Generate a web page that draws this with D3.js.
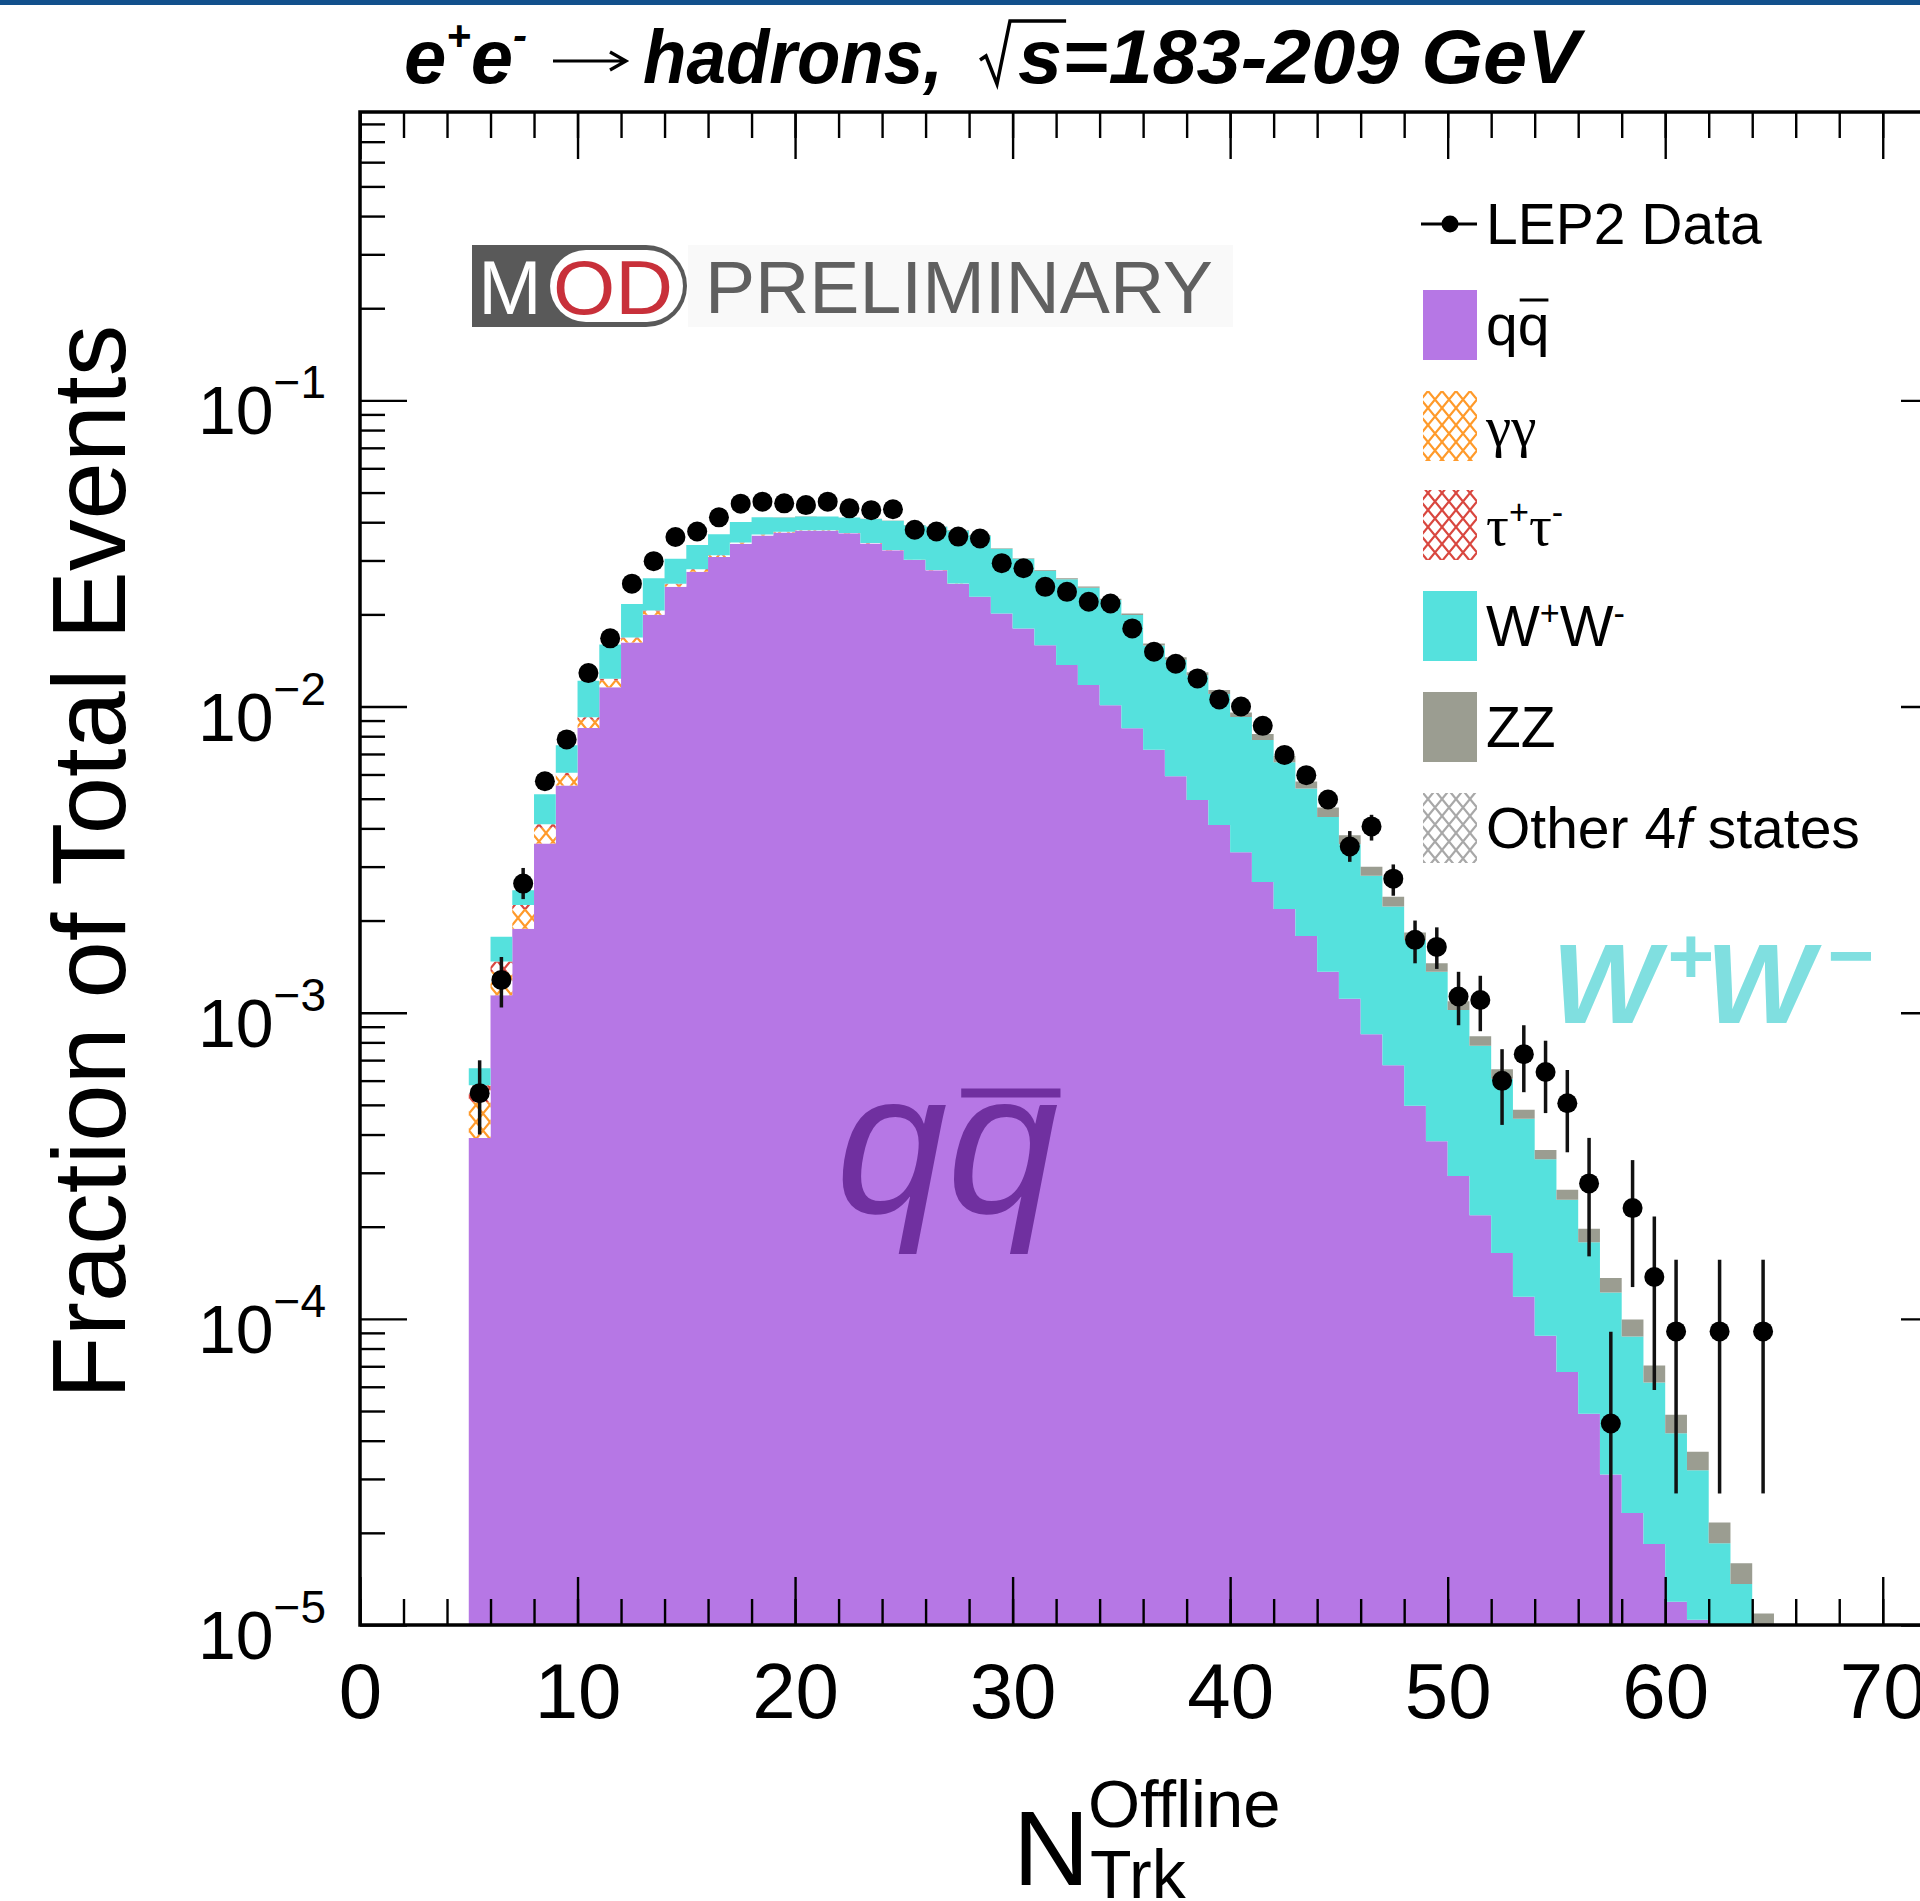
<!DOCTYPE html>
<html>
<head>
<meta charset="utf-8">
<script src="https://cdn.jsdelivr.net/npm/d3@7"></script>
<style>
  html, body { margin: 0; padding: 0; background: #fff; }
  svg { display: block; }
  text { font-family: "Liberation Sans", Arial, sans-serif; }
</style>
</head>
<body>
<div id="wrapper"></div>
<script>
// bin low edges (one unit wide)
const nTrk = [5, 6, 7, 8, 9, 10, 11, 12, 13, 14,
  15, 16, 17, 18, 19, 20, 21, 22, 23, 24,
  25, 26, 27, 28, 29, 30, 31, 32, 33, 34,
  35, 36, 37, 38, 39, 40, 41, 42, 43, 44,
  45, 46, 47, 48, 49, 50, 51, 52, 53, 54,
  55, 56, 57, 58, 59, 60, 61, 62, 63, 64];

// MC fractions per bin
const qqbar = [3.9e-4, 1.14e-3, 1.88e-3, 3.57e-3, 5.52e-3, 8.51e-3, 0.01156, 0.01619, 0.01995, 0.0246,
  0.02754, 0.0308, 0.0340, 0.0362, 0.0370, 0.0375, 0.0375, 0.0368, 0.0341, 0.0324,
  0.0301, 0.0279, 0.0252, 0.02284, 0.02014, 0.01798, 0.01587, 0.01367, 0.01175, 0.0101,
  0.0085, 0.00722, 0.00592, 0.00495, 0.0041, 0.00334, 0.00267, 0.00218, 0.00178, 0.00136,
  0.00111, 8.5e-4, 6.73e-4, 4.97e-4, 3.8e-4, 2.93e-4, 2.18e-4, 1.64e-4, 1.18e-4, 8.8e-5,
  6.7e-5, 4.9e-5, 3.1e-5, 2.32e-5, 1.84e-5, 1.19e-5, 1.04e-5, 7e-6, 5e-6, 3.5e-6];
const gammaGamma = [1.2e-4, 2.2e-4, 3.0e-4, 4.5e-4, 4.5e-4, 5.5e-4, 6.0e-4, 5.0e-4, 5.0e-4, 4.5e-4,
  4.0e-4, 3.0e-4, 2.5e-4, 2.0e-4, 1.5e-4, 1.2e-4, 1.0e-4, 8e-5, 6e-5, 5e-5,
  4e-5, 3e-5, 2e-5, 1.5e-5, 1e-5, 0, 0, 0, 0, 0,
  0, 0, 0, 0, 0, 0, 0, 0, 0, 0,
  0, 0, 0, 0, 0, 0, 0, 0, 0, 0,
  0, 0, 0, 0, 0, 0, 0, 0, 0, 0];
const tauTau = [7e-5, 1.1e-4, 7e-5, 1.1e-4, 1.1e-4, 1.6e-4, 1.7e-4, 1.3e-4, 1.5e-4, 1.5e-4,
  1.5e-4, 1.2e-4, 1.0e-4, 1.0e-4, 8e-5, 6e-5, 5e-5, 4e-5, 3e-5, 2e-5,
  1.5e-5, 1e-5, 0, 0, 0, 0, 0, 0, 0, 0,
  0, 0, 0, 0, 0, 0, 0, 0, 0, 0,
  0, 0, 0, 0, 0, 0, 0, 0, 0, 0,
  0, 0, 0, 0, 0, 0, 0, 0, 0, 0];
const wPairs = [7.8e-5, 3.0e-4, 2.6e-4, 1.04e-3, 1.40e-3, 2.91e-3, 3.63e-3, 4.81e-3, 5.64e-3, 5.2e-3,
  5.6e-3, 5.3e-3, 5.7e-3, 5.0e-3, 4.25e-3, 4.1e-3, 4.1e-3, 4.5e-3, 6.8e-3, 7.95e-3,
  8.95e-3, 0.0107, 0.0124, 0.0133, 0.0126, 0.0124, 0.0119, 0.0124, 0.0127, 0.0122,
  0.0114, 0.0086, 0.0083, 0.0077, 0.0069, 0.0059, 0.0051, 0.0044, 0.00362, 0.0030,
  0.00244, 0.00195, 0.00155, 0.00123, 9.8e-4, 7.27e-4, 5.62e-4, 4.44e-4, 3.32e-4, 2.44e-4,
  1.78e-4, 1.29e-4, 9.1e-5, 6.43e-5, 4.35e-5, 3.04e-5, 2.16e-5, 1.15e-5, 8.6e-6, 6e-6];
const zPairs = [0, 0, 0, 0, 0, 0, 0, 0, 0, 0,
  0, 0, 0, 0, 2e-5, 3e-5, 3e-5, 4e-5, 5e-5, 7e-5,
  8e-5, 9e-5, 1.0e-4, 1.1e-4, 1.3e-4, 1.5e-4, 1.6e-4, 1.8e-4, 2.0e-4, 2.1e-4,
  2.3e-4, 2.5e-4, 2.8e-4, 3.0e-4, 3.2e-4, 3.3e-4, 3.6e-4, 3.2e-4, 2.9e-4, 3.2e-4,
  2.5e-4, 2.0e-4, 1.7e-4, 1.0e-4, 9e-5, 7e-5, 5.8e-5, 4.5e-5, 3.2e-5, 2.4e-5,
  1.9e-5, 1.9e-5, 1.4e-5, 1.2e-5, 8.5e-6, 6.3e-6, 4.8e-6, 3.1e-6, 2.3e-6, 1.4e-6];
const other4f = [0, 0, 0, 0, 0, 0, 0, 0, 0, 0,
  0, 0, 0, 0, 0, 0, 0, 0, 0, 0,
  0, 0, 0, 0, 0, 0, 0, 0, 0, 0,
  0, 0, 0, 0, 0, 0, 0, 0, 0, 0,
  0, 0, 0, 0, 0, 0, 0, 0, 0, 0,
  0, 0, 0, 0, 0, 0, 0, 0, 0, 0];

// LEP2 data points and error bar ends
const lepData = [5.46e-4, 1.28e-3, 2.64e-3, 5.7e-3, 7.81e-3, 0.01286, 0.0167, 0.0252, 0.02985, 0.0358,
  0.0373, 0.0415, 0.046, 0.0467, 0.0461, 0.0455, 0.0467, 0.0444, 0.0438, 0.0441,
  0.0378, 0.0373, 0.0359, 0.0354, 0.0294, 0.0283, 0.0246, 0.0237, 0.022, 0.0217,
  0.018, 0.0151, 0.0138, 0.01236, 0.01055, 0.0100, 0.00865, 0.00695, 0.00597, 0.00497,
  0.00349, 0.00406, 0.00274, 0.00173, 0.00164, 0.00113, 0.0011, 5.99e-4, 7.32e-4, 6.4e-4,
  5.06e-4, 2.77e-4, 4.55e-5, 2.3e-4, 1.37e-4, 9.1e-5, null, 9.1e-5, null, 9.1e-5];
const lepErrLow = [4.0e-4, 1.04e-3, 2.35e-3, null, null, null, null, null, null, null,
  null, null, null, null, null, null, null, null, null, null,
  null, null, null, null, null, null, null, null, null, null,
  null, null, null, null, null, null, null, null, null, null,
  3.11e-3, 3.65e-3, 2.41e-3, 1.45e-3, 1.39e-3, 9.1e-4, 8.7e-4, 4.3e-4, 5.5e-4, 4.7e-4,
  3.5e-4, 1.6e-4, 1e-6, 1.27e-4, 5.86e-5, 2.69e-5, null, 2.69e-5, null, 2.69e-5];
const lepErrHigh = [6.99e-4, 1.52e-3, 2.97e-3, null, null, null, null, null, null, null,
  null, null, null, null, null, null, null, null, null, null,
  null, null, null, null, null, null, null, null, null, null,
  null, null, null, null, null, null, null, null, null, null,
  3.92e-3, 4.43e-3, 3.05e-3, 2.0e-3, 1.9e-3, 1.36e-3, 1.32e-3, 7.6e-4, 9.1e-4, 8.1e-4,
  6.5e-4, 3.9e-4, 9.08e-5, 3.3e-4, 2.16e-4, 1.56e-4, null, 1.56e-4, null, 1.56e-4];

const xTickLabels = [0, 10, 20, 30, 40, 50, 60, 70];
const yTickExponents = [-1, -2, -3, -4, -5];

const seriesKeys = ["qq", "gg", "tt", "ww", "zz", "ff"];
const legendRows = [
  { key: "data", parts: [{ t: "LEP2 Data" }] },
  { key: "qq", parts: [{ t: "q" }, { t: "q", bar: true }] },
  { key: "gg", parts: [{ t: "γγ", serif: true }] },
  { key: "tt", parts: [{ t: "τ", serif: true }, { t: "+", sup: true }, { t: "τ", serif: true }, { t: "-", sup: true }] },
  { key: "ww", parts: [{ t: "W" }, { t: "+", sup: true }, { t: "W" }, { t: "-", sup: true }] },
  { key: "zz", parts: [{ t: "ZZ" }] },
  { key: "ff", parts: [{ t: "Other 4" }, { t: "f", it: true }, { t: " states" }] },
];

const W = 1920, H = 1901;
const plot = { left: 360, right: 1948, top: 112, bottom: 1625 };
const yMin = 1e-5;

const svg = d3.select("#wrapper").append("svg")
  .attr("width", W).attr("height", H)
  .attr("viewBox", `0 0 ${W} ${H}`);

svg.append("rect").attr("width", W).attr("height", H).attr("fill", "#fff");
svg.append("rect").attr("width", W).attr("height", 5).attr("fill", "#12508c");

const x = d3.scaleLinear().domain([0, 73]).range([plot.left, plot.right]);
const y = d3.scaleLog().domain([yMin, 0.875]).range([plot.bottom, plot.top]).clamp(true);
const yv = v => y(Math.max(v, 1e-7));

const defs = svg.append("defs");
defs.append("clipPath").attr("id", "plotClip").append("rect")
  .attr("x", plot.left).attr("y", plot.top)
  .attr("width", plot.right - plot.left).attr("height", plot.bottom - plot.top);

function hatch(id, color) {
  const p = defs.append("pattern").attr("id", id)
    .attr("patternUnits", "userSpaceOnUse").attr("width", 14).attr("height", 17);
  p.append("rect").attr("width", 14).attr("height", 17).attr("fill", "#fff");
  p.append("path").attr("d", "M0,0L14,17M14,0L0,17")
    .attr("stroke", color).attr("stroke-width", 2.2).attr("fill", "none");
}
hatch("hatchOrange", "#ff9a2a");
hatch("hatchRed", "#d9473f");
hatch("hatchGray", "#a8a8a8");

const fills = {
  qq: "#b677e5",
  gg: "url(#hatchOrange)",
  tt: "url(#hatchRed)",
  ww: "#55e1dd",
  zz: "#9b9d91",
  ff: "url(#hatchGray)",
};

// stacked MC
const rows = nTrk.map((n, i) => ({
  bin: n, qq: qqbar[i], gg: gammaGamma[i], tt: tauTau[i],
  ww: wPairs[i], zz: zPairs[i], ff: other4f[i],
}));
const last = rows[rows.length - 1];
rows.push(Object.assign({}, last, { bin: last.bin + 1 }));

const stacked = d3.stack().keys(seriesKeys)(rows);
const area = d3.area()
  .curve(d3.curveStepAfter)
  .x(d => x(d.data.bin))
  .y0(d => yv(d[0]))
  .y1(d => yv(d[1]));

const histG = svg.append("g").attr("clip-path", "url(#plotClip)");
histG.selectAll("path.layer")
  .data(stacked)
  .join("path")
  .attr("class", "layer")
  .attr("d", area)
  .attr("fill", d => fills[d.key]);

// MOD preliminary logo
const logo = svg.append("g");
logo.append("rect").attr("x", 688).attr("y", 245).attr("width", 545).attr("height", 82).attr("fill", "#f9f9f9");
logo.append("path").attr("d", "M472,245H646A41,41 0 0 1 646,327H472Z").attr("fill", "#595959");
logo.append("path").attr("d", "M586,250H647A36,36 0 0 1 647,322H586A36,36 0 0 1 586,250Z").attr("fill", "#fff");
logo.append("text").attr("x", 510).attr("y", 314).attr("text-anchor", "middle")
  .attr("font-size", 76).attr("fill", "#fff").text("M");
logo.append("text").attr("x", 553).attr("y", 314)
  .attr("font-size", 76).attr("fill", "#c8303a")
  .attr("textLength", 120).attr("lengthAdjust", "spacingAndGlyphs").text("OD");
logo.append("text").attr("x", 705).attr("y", 313)
  .attr("font-size", 74).attr("fill", "#606060")
  .attr("textLength", 508).attr("lengthAdjust", "spacingAndGlyphs").text("PRELIMINARY");

// data points
const pts = nTrk.map((n, i) => ({ bin: n, v: lepData[i], lo: lepErrLow[i], hi: lepErrHigh[i] }))
  .filter(d => d.v != null);
const dataG = svg.append("g").attr("clip-path", "url(#plotClip)");
dataG.selectAll("line.err")
  .data(pts.filter(d => d.lo != null))
  .join("line")
  .attr("class", "err")
  .attr("x1", d => x(d.bin + 0.5)).attr("x2", d => x(d.bin + 0.5))
  .attr("y1", d => yv(d.hi)).attr("y2", d => yv(d.lo))
  .attr("stroke", "#111").attr("stroke-width", 3.5);
dataG.selectAll("circle")
  .data(pts)
  .join("circle")
  .attr("cx", d => x(d.bin + 0.5)).attr("cy", d => yv(d.v))
  .attr("r", 10).attr("fill", "#000");

// big annotations
const qqText = svg.append("text").attr("x", 836).attr("y", 1212)
  .attr("font-family", "'Liberation Serif', serif").attr("font-style", "italic")
  .attr("font-size", 200).attr("fill", "#7030a0").text("qq");
{
  const n = qqText.node();
  const s = n.getStartPositionOfChar(1).x, e = n.getEndPositionOfChar(1).x;
  svg.append("line").attr("x1", s + 14).attr("x2", e + 2).attr("y1", 1093).attr("y2", 1093)
    .attr("stroke", "#7030a0").attr("stroke-width", 9);
}
const wwG = svg.append("g").attr("fill", "#80dfe0")
  .attr("font-family", "'Liberation Serif', serif").attr("font-style", "italic").attr("font-weight", "bold");
wwG.append("text").attr("x", 1552).attr("y", 1023).attr("font-size", 114).text("W");
wwG.append("text").attr("x", 1666).attr("y", 983).attr("font-size", 80).text("+");
wwG.append("text").attr("x", 1706).attr("y", 1023).attr("font-size", 114).text("W");
wwG.append("text").attr("x", 1826).attr("y", 983).attr("font-size", 80).text("−");

// axes
const minorX = d3.range(0, 74, 2);
const majorX = xTickLabels;
const yTicks = y.ticks();
const isMajorY = v => Math.abs(Math.log10(v) - Math.round(Math.log10(v))) < 1e-6;
const minorY = yTicks.filter(v => !isMajorY(v));
const majorY = yTickExponents.map(e => Math.pow(10, e));

const axesG = svg.append("g");
function styleAxis(g) {
  g.select(".domain").remove();
  g.selectAll(".tick line").attr("stroke", "#000").attr("stroke-width", 2.4);
}
axesG.append("g").attr("transform", `translate(0,${plot.bottom})`)
  .call(d3.axisBottom(x).tickValues(minorX).tickSize(-26).tickSizeOuter(0).tickFormat(""))
  .call(styleAxis);
const xMajorG = axesG.append("g").attr("transform", `translate(0,${plot.bottom})`)
  .call(d3.axisBottom(x).tickValues(majorX).tickSize(-48).tickSizeOuter(0).tickFormat(d => d))
  .call(styleAxis);
xMajorG.attr("font-family", null).attr("font-size", null);
xMajorG.selectAll("text").attr("y", 93).attr("dy", null)
  .attr("font-size", 78).attr("fill", "#000")
  .attr("font-family", "'Liberation Sans', Arial, sans-serif");

axesG.append("g").attr("transform", `translate(0,${plot.top})`)
  .call(d3.axisTop(x).tickValues(minorX).tickSize(-26).tickSizeOuter(0).tickFormat(""))
  .call(styleAxis);
axesG.append("g").attr("transform", `translate(0,${plot.top})`)
  .call(d3.axisTop(x).tickValues(majorX).tickSize(-47).tickSizeOuter(0).tickFormat(""))
  .call(styleAxis);

axesG.append("g").attr("transform", `translate(${plot.left},0)`)
  .call(d3.axisLeft(y).tickValues(minorY).tickSize(-25).tickSizeOuter(0).tickFormat(""))
  .call(styleAxis);
axesG.append("g").attr("transform", `translate(${plot.left},0)`)
  .call(d3.axisLeft(y).tickValues(majorY).tickSize(-47).tickSizeOuter(0).tickFormat(""))
  .call(styleAxis);
axesG.append("g").attr("transform", `translate(${plot.right},0)`)
  .call(d3.axisRight(y).tickValues(minorY).tickSize(-25).tickSizeOuter(0).tickFormat(""))
  .call(styleAxis);
axesG.append("g").attr("transform", `translate(${plot.right},0)`)
  .call(d3.axisRight(y).tickValues(majorY).tickSize(-47).tickSizeOuter(0).tickFormat(""))
  .call(styleAxis);

axesG.append("rect")
  .attr("x", plot.left).attr("y", plot.top)
  .attr("width", plot.right - plot.left).attr("height", plot.bottom - plot.top)
  .attr("fill", "none").attr("stroke", "#000").attr("stroke-width", 3.5);

// y tick labels: 10^exp
yTickExponents.forEach(e => {
  const t = svg.append("text").attr("x", 326).attr("y", y(Math.pow(10, e)) + 34)
    .attr("text-anchor", "end").attr("font-size", 68).attr("fill", "#000");
  t.append("tspan").text("10");
  t.append("tspan").attr("font-size", 46).attr("dy", -36).text("−" + Math.abs(e));
});

// axis titles
svg.append("text")
  .attr("transform", `translate(125,862) rotate(-90)`)
  .attr("text-anchor", "middle").attr("font-size", 103).attr("fill", "#000")
  .text("Fraction of Total Events");
svg.append("text").attr("x", 1013).attr("y", 1885).attr("font-size", 106).text("N");
svg.append("text").attr("x", 1088).attr("y", 1827).attr("font-size", 67).text("Offline");
svg.append("text").attr("x", 1090).attr("y", 1898).attr("font-size", 68).text("Trk");

// rich text helper: sup / italic / serif / overline parts
function richText(sel, parts, size) {
  let off = 0;
  const bars = [];
  let idx = 0;
  parts.forEach(p => {
    const o = p.sup ? -0.36 * size : 0;
    const ts = sel.append("tspan").text(p.t);
    if (o - off) ts.attr("dy", o - off);
    off = o;
    if (p.sup) ts.attr("font-size", 0.6 * size);
    if (p.it) ts.attr("font-style", "italic");
    if (p.serif) ts.attr("font-family", "'Liberation Serif', serif");
    if (p.bar) bars.push(idx);
    idx += p.t.length;
  });
  return bars;
}

// title
const titleG = svg.append("g").attr("font-weight", "bold").attr("font-style", "italic");
const t1 = titleG.append("text").attr("x", 404).attr("y", 83).attr("font-size", 76);
t1.append("tspan").text("e");
t1.append("tspan").attr("font-size", 42).attr("dy", -33).text("+");
t1.append("tspan").attr("dy", 33).text("e");
t1.append("tspan").attr("font-size", 42).attr("dy", -33).text("-");
// arrow
svg.append("path").attr("d", "M553,61H624M610,52L626,61L610,70")
  .attr("fill", "none").attr("stroke", "#000").attr("stroke-width", 3.2);
titleG.append("text").attr("x", 643).attr("y", 83).attr("font-size", 76)
  .attr("textLength", 300).attr("lengthAdjust", "spacingAndGlyphs").text("hadrons,");
const t2 = titleG.append("text").attr("x", 1580).attr("y", 83).attr("font-size", 76)
  .attr("text-anchor", "end").attr("textLength", 562).attr("lengthAdjust", "spacingAndGlyphs")
  .text("s=183-209 GeV");
{
  const n2 = t2.node();
  const sx = n2.getStartPositionOfChar(0).x;
  const se = n2.getEndPositionOfChar(0).x;
  const rx = sx - 2;
  svg.append("path")
    .attr("d", `M${rx - 36},60L${rx - 30},56L${rx - 19},84L${rx - 6},21L${se + 4},21`)
    .attr("fill", "none").attr("stroke", "#000").attr("stroke-width", 3.5)
    .attr("stroke-linejoin", "miter");
}

// legend
const legendY = [224, 325, 426, 525, 626, 727, 828];
const legG = svg.append("g");
legendRows.forEach((row, i) => {
  const cy = legendY[i];
  if (row.key === "data") {
    legG.append("line").attr("x1", 1421).attr("x2", 1477).attr("y1", cy).attr("y2", cy)
      .attr("stroke", "#000").attr("stroke-width", 3);
    legG.append("circle").attr("cx", 1450).attr("cy", cy).attr("r", 8.5).attr("fill", "#000");
  } else {
    legG.append("rect").attr("x", 1423).attr("y", cy - 35).attr("width", 54).attr("height", 70)
      .attr("fill", fills[row.key]);
  }
  const t = legG.append("text").attr("x", 1486).attr("y", cy + 20)
    .attr("font-size", 57).attr("fill", "#000");
  const bars = richText(t, row.parts, 57);
  bars.forEach(ci => {
    const n = t.node();
    const s = n.getStartPositionOfChar(ci).x, e = n.getEndPositionOfChar(ci).x;
    legG.append("line").attr("x1", s + 2).attr("x2", e - 1)
      .attr("y1", cy - 25).attr("y2", cy - 25).attr("stroke", "#000").attr("stroke-width", 3);
  });
});
</script>
</body>
</html>
